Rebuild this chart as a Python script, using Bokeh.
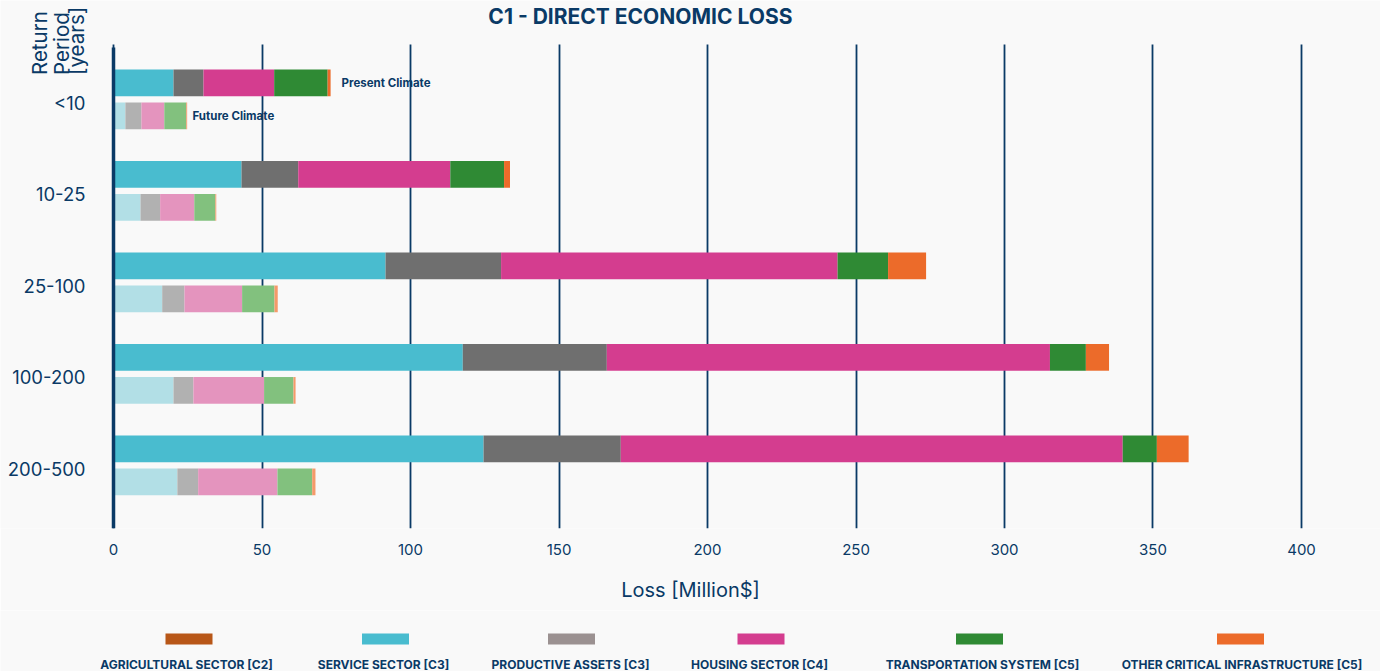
import math
from bokeh.plotting import figure
from bokeh.layouts import column
from bokeh.models import ColumnDataSource, Range1d, FixedTicker, Label, Plot, Grid
from bokeh.core.properties import value
from bokeh.embed import file_html
from bokeh.resources import INLINE

# ---------------- data ----------------
categories = ["<10", "10-25", "25-100", "100-200", "200-500"]
sectors = ["AGRICULTURAL SECTOR [C2]", "SERVICE SECTOR [C3]", "PRODUCTIVE ASSETS [C3]",
           "HOUSING SECTOR [C4]", "TRANSPORTATION SYSTEM [C5]", "OTHER CRITICAL INFRASTRUCTURE [C5]"]

# Present climate (Million $)
pres_agri = [0, 0, 0, 0, 0]
pres_service = [20.2, 43.1, 91.6, 117.6, 124.6]
pres_productive = [10.1, 19.1, 38.9, 48.5, 46.2]
pres_housing = [23.8, 51.2, 113.3, 149.2, 169.0]
pres_transport = [18.0, 18.1, 17.0, 12.1, 11.5]
pres_other = [1.0, 2.0, 12.8, 7.8, 10.7]

# Future climate (Million $)
fut_agri = [0, 0, 0, 0, 0]
fut_service = [4.0, 9.1, 16.4, 20.2, 21.5]
fut_productive = [5.4, 6.6, 7.5, 6.7, 7.0]
fut_housing = [7.7, 11.5, 19.4, 23.8, 26.7]
fut_transport = [7.4, 7.1, 10.9, 9.9, 11.7]
fut_other = [0.3, 0.3, 1.1, 0.7, 1.1]

x_ticks = [0, 50, 100, 150, 200, 250, 300, 350, 400]

# ---------------- styles ----------------
NAVY = "#0a3a66"
BG = "#f9f9f9"
FONT = "Inter"
present_colors = ["#b85718", "#49bccf", "#6f6f6f", "#d43d8f", "#2f8a34", "#ec6b2a"]
future_colors = ["#d9a37f", "#b2dfe6", "#b1b1b1", "#e494be", "#82c17e", "#f59a6a"]
legend_colors = ["#b85718", "#49bccf", "#9b9191", "#d43d8f", "#2f8a34", "#ec6b2a"]

keys = ["agri", "service", "productive", "housing", "transport", "other"]
n = len(categories)
PRES_OFF = -0.219
FUT_OFF = 0.142
BAR_H = 0.292

src_p = ColumnDataSource(dict(
    y=[i + PRES_OFF for i in range(n)],
    agri=pres_agri, service=pres_service, productive=pres_productive,
    housing=pres_housing, transport=pres_transport, other=pres_other))
src_f = ColumnDataSource(dict(
    y=[i + FUT_OFF for i in range(n)],
    agri=fut_agri, service=fut_service, productive=fut_productive,
    housing=fut_housing, transport=fut_transport, other=fut_other))

# frame spans the full width and the top of the canvas; the value axis is fixed at x=0
p = figure(width=1380, height=610,
           x_range=Range1d(-38.05, 426.6), y_range=Range1d(4.6514, -1.1191),
           output_backend="svg", toolbar_location=None,
           min_border_left=0, min_border_right=0, min_border_top=0, min_border_bottom=82)
p.background_fill_color = BG
p.border_fill_color = BG
p.outline_line_color = None

p.hbar_stack(keys, y="y", height=BAR_H, fill_color=present_colors, line_color=None, source=src_p)
p.hbar_stack(keys, y="y", height=BAR_H, fill_color=future_colors, line_color=None, source=src_f)

# x axis
p.xaxis.ticker = FixedTicker(ticks=x_ticks)
p.xaxis.axis_line_color = None
p.xaxis.major_tick_line_color = None
p.xaxis.minor_tick_line_color = None
p.xaxis.major_tick_out = 0
p.xaxis.major_label_standoff = 15
p.xaxis.major_label_text_font = FONT
p.xaxis.major_label_text_font_size = "15px"
p.xaxis.major_label_text_color = NAVY
p.xaxis.axis_label = "Loss [Million$]"
p.xaxis.axis_label_standoff = 20
p.xaxis.axis_label_text_font = FONT
p.xaxis.axis_label_text_font_size = "20px"
p.xaxis.axis_label_text_font_style = "normal"
p.xaxis.axis_label_text_color = NAVY

# y axis (fixed at x = 0)
p.yaxis.fixed_location = 0
p.yaxis.bounds = (-0.609, 4.6514)
p.yaxis.ticker = FixedTicker(ticks=list(range(n)))
p.yaxis.major_label_overrides = {i: c for i, c in enumerate(categories)}
p.yaxis.axis_line_color = NAVY
p.yaxis.axis_line_width = 3.5
p.yaxis.major_tick_line_color = None
p.yaxis.minor_tick_line_color = None
p.yaxis.major_tick_out = 0
p.yaxis.major_label_standoff = 28
p.yaxis.major_label_text_font = FONT
p.yaxis.major_label_text_font_size = "18.5px"
p.yaxis.major_label_text_color = NAVY

# grid
p.ygrid.grid_line_color = None
p.xgrid.grid_line_color = NAVY
p.xgrid.grid_line_width = 1.8
if "cross_bounds" in Grid.properties():
    p.xgrid.cross_bounds = (-0.638, 4.6514)

# annotations next to first bars
p.add_layout(Label(x=76.8, y=0 + PRES_OFF, text="Present Climate", text_font=FONT,
                   text_font_size="11.5px", text_font_style="bold", text_color=NAVY,
                   text_baseline="middle", text_align="left"))
p.add_layout(Label(x=26.6, y=0 + FUT_OFF, text="Future Climate", text_font=FONT,
                   text_font_size="11.5px", text_font_style="bold", text_color=NAVY,
                   text_baseline="middle", text_align="left"))

# title
p.add_layout(Label(x=177.4, y=-0.944, text="C1 - DIRECT ECONOMIC LOSS", text_font=FONT,
                   text_font_size="21px", text_font_style="bold", text_color=NAVY,
                   text_align="center", text_baseline="alphabetic"))

# rotated y-axis title
for txt, bx in [("Return", -24.8), ("Period", -17.45), ("[years]", -12.46)]:
    p.add_layout(Label(x=bx, y=-0.305, text=txt, angle=math.pi / 2, text_font=FONT,
                       text_font_size="20.5px", text_color=NAVY, text_align="left",
                       text_baseline="alphabetic"))

# ---------------- legend ----------------
swatch_x = [188.5, 385, 571, 760.5, 979, 1240]
label_x = [186, 383, 570, 759, 982, 1241.5]

leg_kwargs = {}
if "frame_align" in Plot.properties():
    leg_kwargs["frame_align"] = False

leg = figure(width=1380, height=61, x_range=Range1d(0, 1380), y_range=Range1d(671, 610),
             output_backend="svg", toolbar_location=None, min_border=0,
             x_axis_location=None, y_axis_location=None, **leg_kwargs)
leg.background_fill_color = BG
leg.border_fill_color = BG
leg.outline_line_color = None
leg.grid.visible = False
leg.rect(x=swatch_x, y=638.5, width=47, height=11, fill_color=legend_colors, line_color=None)
leg.text(x=label_x, y=663.5, text=sectors, text_align="center", text_baseline="middle",
         text_font=value(FONT), text_font_size="12px", text_font_style="bold", text_color=NAVY)

layout = column(p, leg, spacing=0)
open("out.html", "w").write(file_html(layout, INLINE))
